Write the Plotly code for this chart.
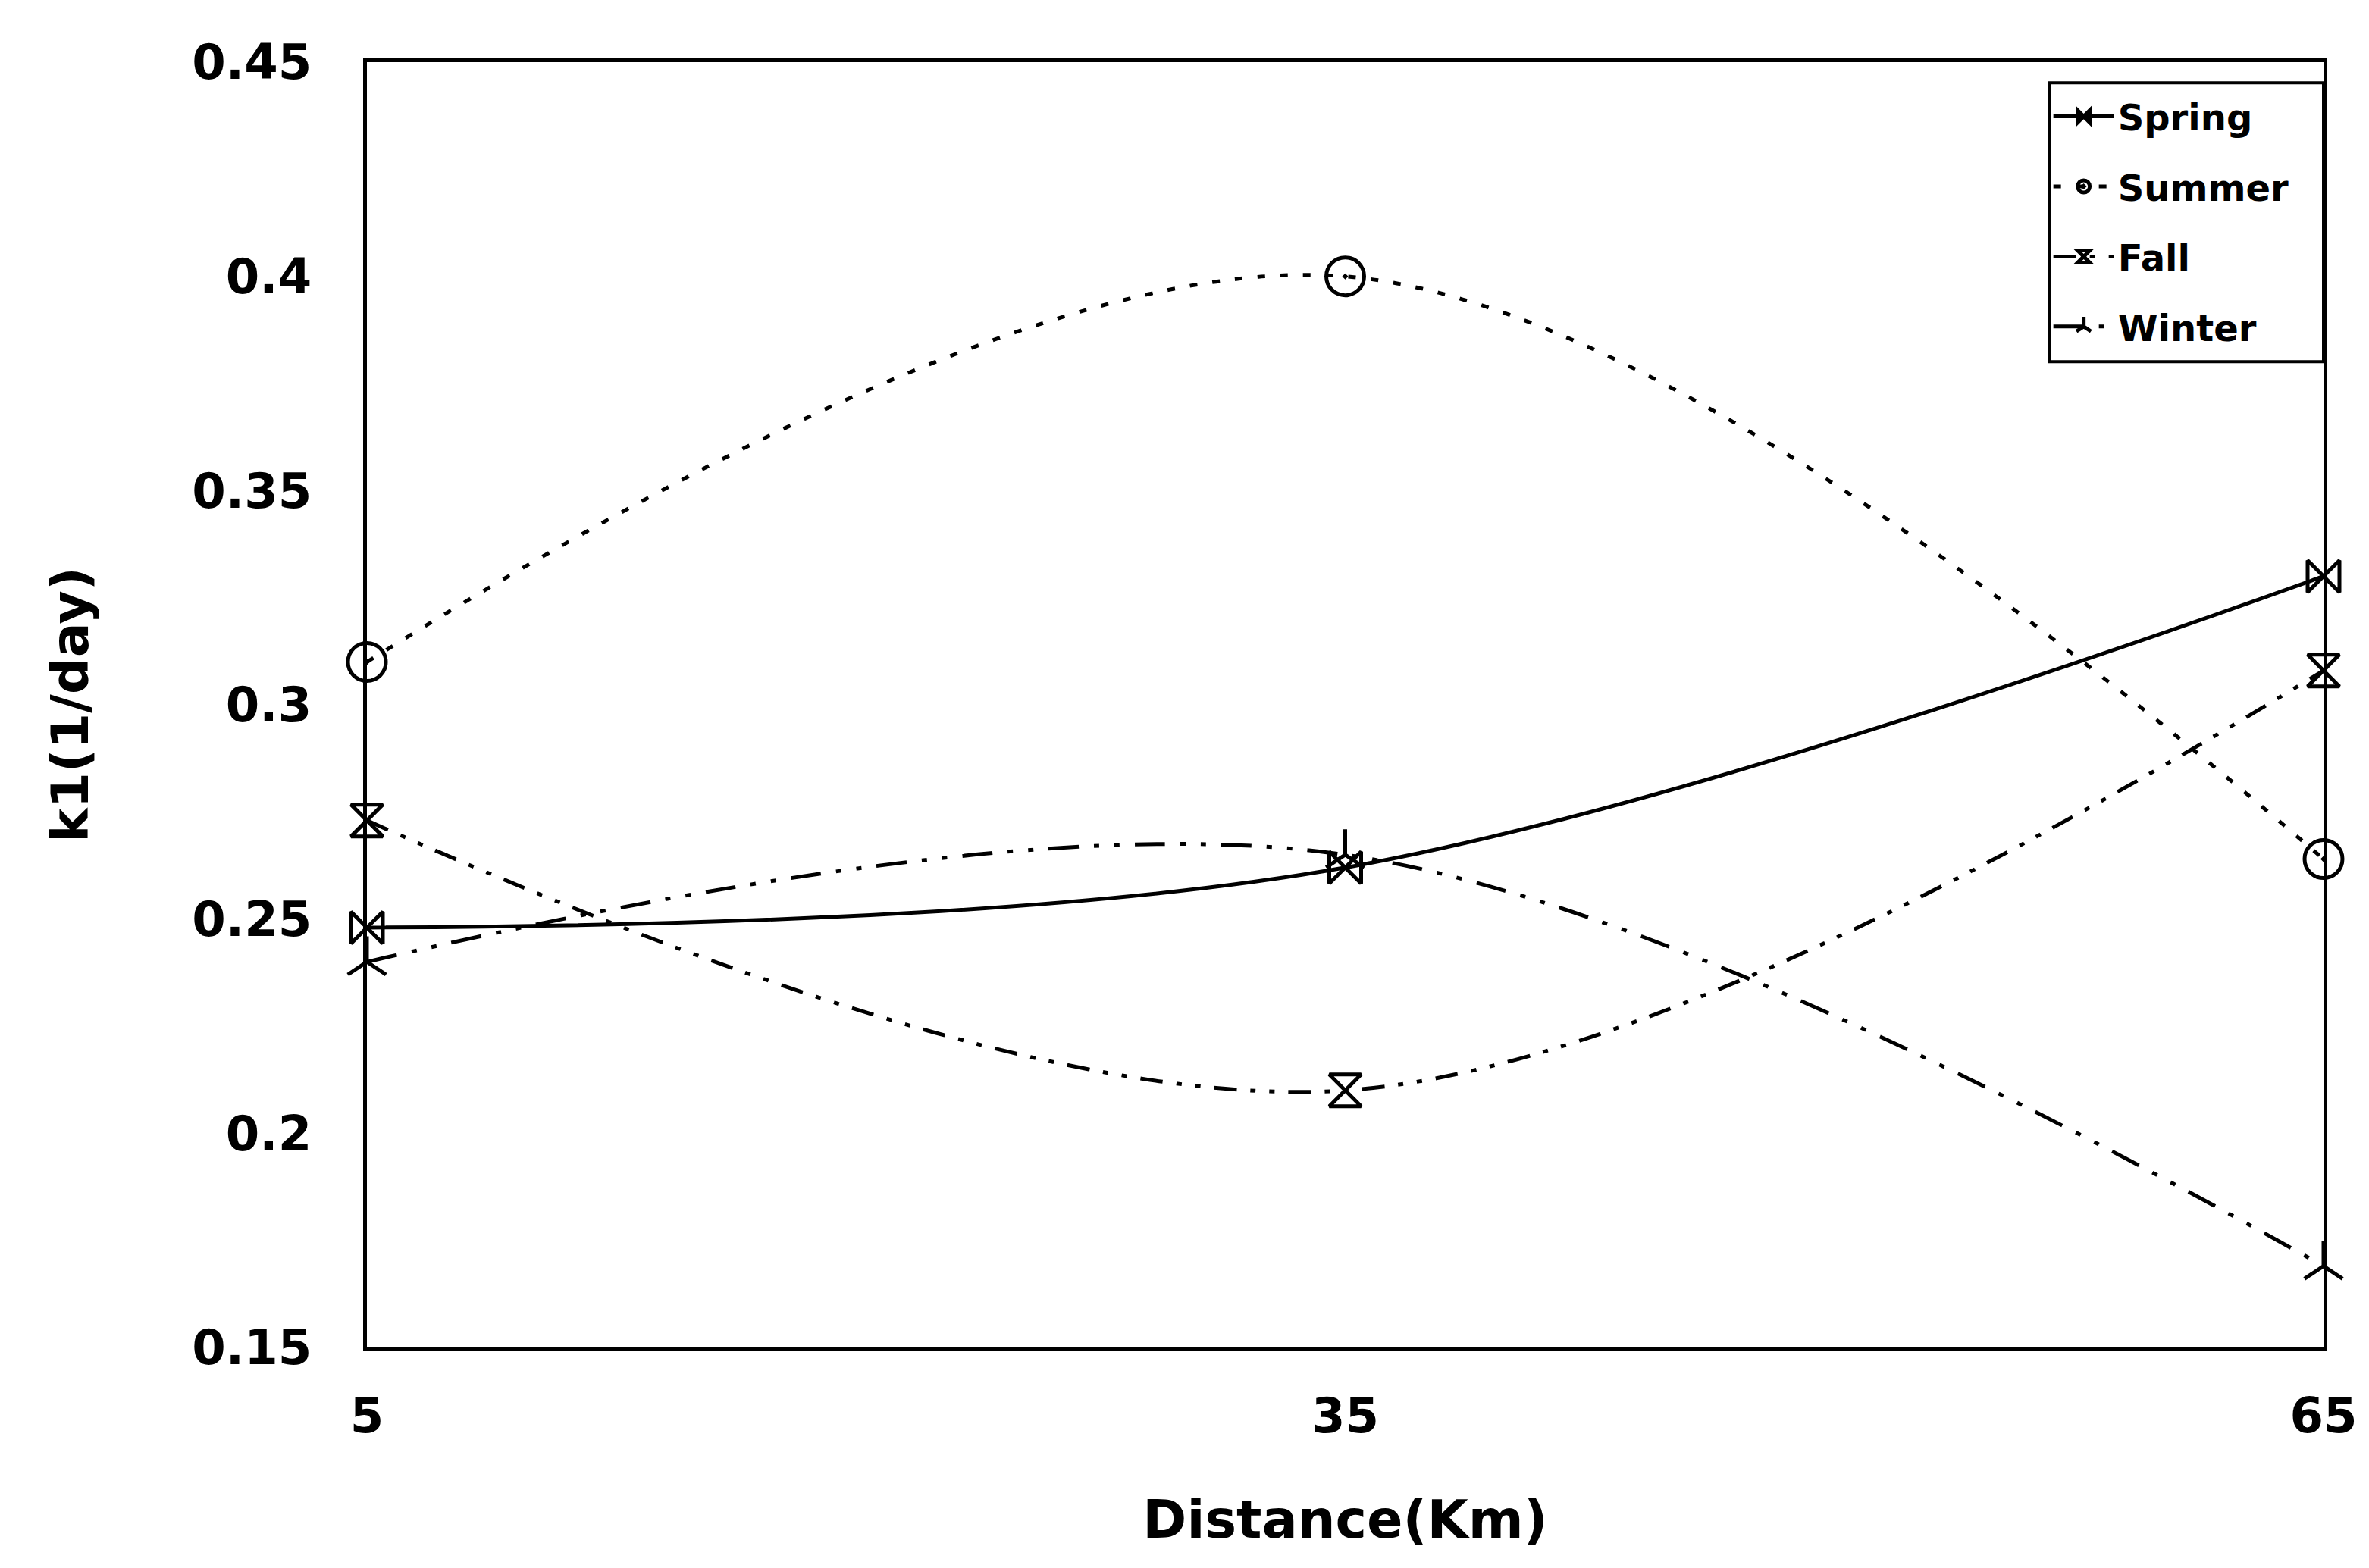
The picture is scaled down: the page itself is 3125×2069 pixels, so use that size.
import plotly.graph_objects as go

distance = [5, 35, 65]
spring = [0.248, 0.262, 0.330]
summer = [0.310, 0.400, 0.264]
fall = [0.273, 0.210, 0.308]
winter = [0.240, 0.265, 0.169]

x_ticks = [5, 35, 65]
y_ticks = [0.15, 0.2, 0.25, 0.3, 0.35, 0.4, 0.45]

FONT = "DejaVu Sans"

series = [
    ("Spring", spring, "solid", "bowtie-open", 42),
    ("Summer", summer, "10px,20px", "circle-open-dot", 50),
    ("Fall", fall, "30px,18px,7px,18px,7px,18px", "hourglass-open", 42),
    ("Winter", winter, "40px,20px,7px,20px,7px,20px", "y-up-open", 42),
]

fig = go.Figure()
for i, (name, vals, dash, sym, size) in enumerate(series):
    fig.add_trace(go.Scatter(
        x=distance, y=vals, name=name, mode="lines+markers",
        line=dict(color="black", width=5, dash=dash, shape="spline", smoothing=1.0),
        marker=dict(symbol=sym, size=size, color="black", line=dict(color="black", width=5)),
        cliponaxis=False, legendgroup=name,
    ))

# legend frame
fig.add_shape(type="rect", xref="paper", yref="paper",
              x0=0.860, x1=1.0, y0=0.767, y1=0.984,
              line=dict(color="black", width=4), fillcolor="white", layer="above")

fig.update_layout(
    width=3117, height=2061,
    paper_bgcolor="white", plot_bgcolor="white",
    margin=dict(l=476, r=60, t=74, b=291),
    font=dict(family=FONT, color="black"),
    showlegend=True,
    legend=dict(
        x=0.860, xanchor="left", y=0.980, yanchor="top",
        bgcolor="rgba(0,0,0,0)", borderwidth=0,
        font=dict(family=FONT, size=48, weight="bold", color="black"),
        tracegroupgap=27, itemwidth=80,
    ),
)

fig.update_xaxes(
    range=[5, 65], tickvals=x_ticks, showgrid=False, zeroline=False,
    showline=True, mirror=True, linecolor="black", linewidth=5, ticks="",
    tickfont=dict(family=FONT, size=64, weight="bold", color="black"),
    ticklabelstandoff=30,
    title=dict(text="Distance(Km)", standoff=78,
               font=dict(family=FONT, size=70, weight="bold", color="black")),
)
fig.update_yaxes(
    range=[0.15, 0.45], tickvals=y_ticks, showgrid=False, zeroline=False,
    showline=True, mirror=True, linecolor="black", linewidth=5, ticks="",
    tickfont=dict(family=FONT, size=64, weight="bold", color="black"),
    ticklabelstandoff=55,
    title=dict(text="k1(1/day)", standoff=116,
               font=dict(family=FONT, size=68, weight="bold", color="black")),
)

fig.write_html("out.html")
